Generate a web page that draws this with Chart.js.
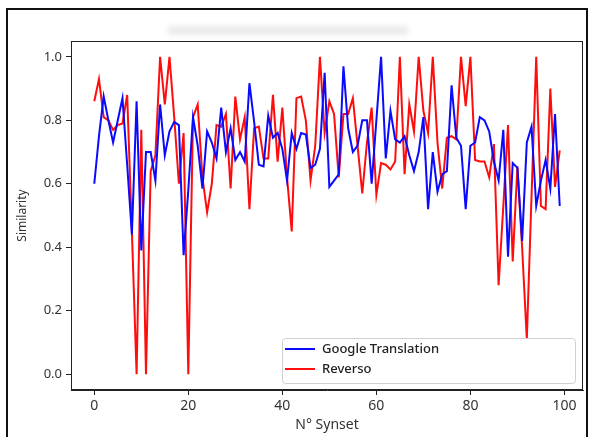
<!DOCTYPE html>
<html>
<head>
<meta charset="utf-8">
<script src="https://cdn.jsdelivr.net/npm/chart.js@4.4.1/dist/chart.umd.min.js"></script>
<style>
    html, body { margin: 0; padding: 0; background: #fff; }
    #wrap { position: relative; width: 589px; height: 437px; overflow: hidden; }
    #frame {
        position: absolute; left: 6px; top: 8px; width: 578px; height: 460px;
        border: 2px solid #111; border-bottom: none;
    }
    #smudge {
        position: absolute; left: 168px; top: 27px; width: 240px; height: 7px;
        background: #e4e4e4; filter: blur(3px);
    }
    canvas { position: absolute; left: 0; top: 0; }
</style>
</head>
<body>
<div id="wrap">
    <div id="frame"></div>
    <div id="smudge"></div>
    <canvas id="simChart" width="589" height="437"></canvas>
</div>
<script>
// synset index on the x axis
const synsets = Array.from({ length: 100 }, (_, i) => i);

const googleScores = [
    0.60, 0.75, 0.875, 0.80, 0.73, 0.80, 0.87, 0.66, 0.44, 0.86,
    0.39, 0.70, 0.70, 0.61, 0.85, 0.69, 0.765, 0.795, 0.785, 0.375,
    0.58, 0.81, 0.72, 0.585, 0.765, 0.73, 0.68, 0.84, 0.70, 0.775,
    0.675, 0.70, 0.67, 0.917, 0.795, 0.66, 0.655, 0.815, 0.745, 0.76,
    0.71, 0.61, 0.76, 0.71, 0.76, 0.755, 0.65, 0.66, 0.71, 0.95,
    0.59, 0.61, 0.63, 0.97, 0.775, 0.70, 0.72, 0.80, 0.80, 0.60,
    0.80, 1.0, 0.68, 0.83, 0.74, 0.73, 0.75, 0.69, 0.64, 0.70,
    0.81, 0.52, 0.70, 0.575, 0.63, 0.64, 0.91, 0.745, 0.72, 0.52,
    0.72, 0.73, 0.81, 0.80, 0.765, 0.67, 0.61, 0.77, 0.37, 0.665,
    0.65, 0.42, 0.73, 0.78, 0.53, 0.61, 0.675, 0.585, 0.82, 0.53
];

const reversoScores = [
    0.86, 0.93, 0.81, 0.80, 0.77, 0.785, 0.79, 0.88, 0.45, 0.0,
    0.77, 0.0, 0.64, 0.69, 1.0, 0.85, 1.0, 0.81, 0.60, 0.76,
    0.0, 0.81, 0.85, 0.62, 0.51, 0.60, 0.785, 0.78, 0.82, 0.585,
    0.875, 0.74, 0.81, 0.52, 0.775, 0.78, 0.68, 0.68, 0.88, 0.67,
    0.84, 0.62, 0.45, 0.87, 0.875, 0.80, 0.61, 0.72, 1.0, 0.76,
    0.86, 0.82, 0.62, 0.82, 0.82, 0.87, 0.72, 0.57, 0.73, 0.84,
    0.565, 0.665, 0.66, 0.645, 0.67, 1.0, 0.63, 0.85, 0.765, 1.0,
    0.83, 0.76, 1.0, 0.73, 0.585, 0.745, 0.75, 0.74, 1.0, 0.845,
    1.0, 0.675, 0.67, 0.67, 0.62, 0.725, 0.28, 0.53, 0.785, 0.355,
    0.655, 0.40, 0.11, 0.56, 1.0, 0.53, 0.52, 0.90, 0.59, 0.705
];

const xTicks = [0, 20, 40, 60, 80, 100];
const yTicks = [0.0, 0.2, 0.4, 0.6, 0.8, 1.0];

document.addEventListener('DOMContentLoaded', () => {

    const axisColor = '#222';
    const textColor = '#333';
    const fontFamily = "'Noto Sans', 'DejaVu Sans', sans-serif";

    // full box around the plot, like matplotlib spines
    const boxPlugin = {
        id: 'box',
        afterDraw(chart) {
            const { ctx, chartArea: a } = chart;
            ctx.save();
            ctx.strokeStyle = axisColor;
            ctx.lineWidth = 1;
            ctx.strokeRect(a.left + 0.5, a.top + 0.5, a.right - a.left - 1, a.bottom - a.top - 1);
            ctx.restore();
        }
    };

    // legend drawn inside the plot, lower right
    const insideLegend = {
        id: 'insideLegend',
        afterDraw(chart) {
            const { ctx, chartArea: a } = chart;
            const w = 293, h = 45;
            const x = a.right - 8 - w;
            const y = a.bottom - 7 - h;
            ctx.save();
            ctx.fillStyle = 'rgba(255,255,255,0.85)';
            ctx.strokeStyle = '#d0d0d0';
            ctx.lineWidth = 1;
            ctx.beginPath();
            ctx.roundRect(x + 0.5, y + 0.5, w, h, 3);
            ctx.fill();
            ctx.stroke();

            ctx.font = "500 13px " + fontFamily;
            ctx.textBaseline = 'middle';
            chart.data.datasets.forEach((ds, i) => {
                const ly = y + 11 + i * 20;
                ctx.strokeStyle = ds.borderColor;
                ctx.lineWidth = 2;
                ctx.beginPath();
                ctx.moveTo(x + 3, ly);
                ctx.lineTo(x + 33, ly);
                ctx.stroke();
                ctx.fillStyle = '#222';
                ctx.fillText(ds.label, x + 40, ly);
            });
            ctx.restore();
        }
    };

    const ctx = document.getElementById('simChart');

    new Chart(ctx, {
        type: 'line',
        data: {
            labels: synsets,
            datasets: [
                {
                    label: 'Google Translation',
                    data: googleScores,
                    borderColor: '#0a0aff',
                    borderWidth: 2,
                    pointRadius: 0,
                    tension: 0
                },
                {
                    label: 'Reverso',
                    data: reversoScores,
                    borderColor: '#ff0d0d',
                    borderWidth: 2,
                    pointRadius: 0,
                    tension: 0
                }
            ]
        },
        options: {
            responsive: false,
            animation: false,
            layout: { padding: { top: 41, right: 6, left: 0, bottom: 0 } },
            plugins: {
                legend: { display: false },
                tooltip: { enabled: false }
            },
            scales: {
                x: {
                    type: 'linear',
                    min: -4.95,
                    max: 103.95,
                    afterBuildTicks: (scale) => { scale.ticks = xTicks.map(v => ({ value: v })); },
                    afterFit: (scale) => { scale.height = 47; },
                    grid: { drawOnChartArea: false, drawTicks: true, tickLength: 5, color: axisColor },
                    border: { display: true, color: axisColor },
                    ticks: {
                        color: textColor,
                        padding: 3,
                        maxRotation: 0,
                        font: { family: fontFamily, size: 14 }
                    },
                    title: {
                        display: true,
                        text: 'N° Synset',
                        color: textColor,
                        font: { family: fontFamily, size: 14 },
                        padding: { top: 0, bottom: 4 }
                    }
                },
                y: {
                    min: -0.05,
                    max: 1.05,
                    afterBuildTicks: (scale) => { scale.ticks = yTicks.map(v => ({ value: v })); },
                    afterFit: (scale) => { scale.width = 71; },
                    grid: { drawOnChartArea: false, drawTicks: true, tickLength: 5, color: axisColor },
                    border: { display: true, color: axisColor },
                    ticks: {
                        color: textColor,
                        padding: 4,
                        font: { family: fontFamily, size: 13 },
                        callback: (v) => v.toFixed(1)
                    },
                    title: {
                        display: true,
                        text: 'Similarity',
                        color: textColor,
                        font: { family: fontFamily, size: 12 },
                        padding: { top: 15, bottom: 0 }
                    }
                }
            }
        },
        plugins: [boxPlugin, insideLegend]
    });

});
</script>
</body>
</html>
